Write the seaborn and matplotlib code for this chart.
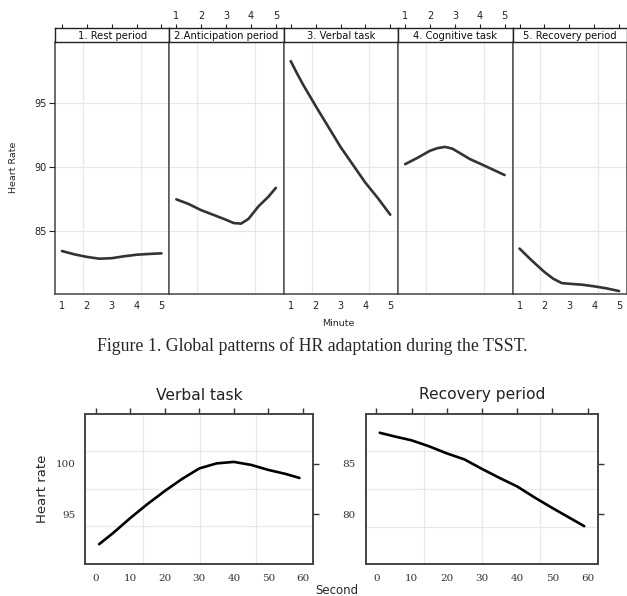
import seaborn as sns
import matplotlib.pyplot as plt
import numpy as np
import pandas as pd

# data
periods = ["1. Rest period", "2.Anticipation period", "3. Verbal task",
           "4. Cognitive task", "5. Recovery period"]
rest_min = [1, 1.5, 2, 2.5, 3, 3.5, 4, 4.5, 5]
rest_hr = [83.46, 83.2, 83.0, 82.86, 82.9, 83.05, 83.17, 83.23, 83.28]
anticip_min = [1, 1.5, 2, 2.5, 3, 3.3, 3.6, 3.9, 4.3, 4.7, 5]
anticip_hr = [87.5, 87.13, 86.65, 86.28, 85.9, 85.65, 85.6, 85.97, 86.95,
              87.7, 88.4]
verbal_min = [1, 1.25, 1.5, 2, 2.5, 3, 3.5, 4, 4.5, 5]
verbal_hr = [98.3, 97.35, 96.45, 94.8, 93.2, 91.6, 90.2, 88.8, 87.6, 86.3]
cognitive_min = [1, 1.5, 2, 2.3, 2.6, 2.9, 3.3, 3.6, 4, 4.5, 5]
cognitive_hr = [90.25, 90.75, 91.3, 91.5, 91.6, 91.46, 91.0, 90.65, 90.3,
                89.85, 89.4]
recovery_min = [1, 1.5, 2, 2.35, 2.7, 3, 3.5, 4, 4.5, 5]
recovery_hr = [83.65, 82.7, 81.82, 81.3, 80.95, 80.9, 80.83, 80.7, 80.54,
               80.33]

second = [1, 5, 10, 15, 20, 25, 30, 35, 40, 45, 50, 55, 59]
verbal_sec_hr = [92.0, 93.1, 94.6, 96.0, 97.3, 98.5, 99.55, 100.05, 100.2,
                 99.9, 99.4, 99.0, 98.6]
recovery_sec_hr = [88.1, 87.75, 87.35, 86.75, 86.05, 85.45, 84.5, 83.6,
                   82.75, 81.64, 80.6, 79.6, 78.8]

sns.set_style("white")
plt.rcParams['font.family'] = ['DejaVu Sans']

W, H = 627, 596
fig = plt.figure(figsize=(W / 100, H / 100), dpi=100)


def rect(x0, y0, x1, y1):
    return [x0 / W, 1 - y1 / H, (x1 - x0) / W, (y1 - y0) / H]


frame_col = '#444444'
grid_col = '#e8e8e8'

# ---- top lattice: one panel per period ----
series = [(rest_min, rest_hr), (anticip_min, anticip_hr),
          (verbal_min, verbal_hr), (cognitive_min, cognitive_hr),
          (recovery_min, recovery_hr)]
pw = (627 - 55) / 5
for i, (title, (mins, hr)) in enumerate(zip(periods, series)):
    x0 = 55 + i * pw
    ax = fig.add_axes(rect(x0, 42, x0 + pw, 294))
    df = pd.DataFrame({'Minute': mins, 'HR': hr})
    sns.lineplot(data=df, x='Minute', y='HR', ax=ax, color='#333333', lw=1.9,
                 solid_joinstyle='round', solid_capstyle='round')
    ax.set_xlim(0.72, 5.32)
    ax.set_ylim(80.1, 99.8)
    ax.set_xlabel("")
    ax.set_ylabel("")
    ax.set_xticks([1, 2, 3, 4, 5])
    ax.set_xticks([1.84, 3.0, 4.16], minor=True)
    ax.set_yticks([85, 90, 95])
    ax.grid(False)
    ax.grid(True, which='minor', axis='x', color=grid_col, lw=0.9)
    ax.grid(True, which='major', axis='y', color=grid_col, lw=0.9)
    ax.tick_params(which='minor', length=0)
    ax.tick_params(axis='x', direction='out', length=3, width=0.8,
                   labelsize=7, pad=2, colors='#222222',
                   labelbottom=(i % 2 == 0))
    ax.tick_params(axis='y', direction='out', length=4, width=0.8,
                   labelsize=7, pad=2, colors='#222222',
                   left=(i == 0), labelleft=(i == 0))
    for s in ax.spines.values():
        s.set_color(frame_col)
        s.set_linewidth(1.1)
    ax.spines['top'].set_visible(False)
    if i > 0:
        ax.spines['left'].set_color('#555555')

    strip = fig.add_axes(rect(x0, 28, x0 + pw, 42))
    strip.set_xlim(0.72, 5.32)
    strip.set_xticks([1, 2, 3, 4, 5])
    strip.set_yticks([])
    strip.xaxis.tick_top()
    strip.tick_params(axis='x', direction='out', length=3, width=0.8,
                      labelsize=7, pad=2, colors='#222222',
                      labeltop=(i % 2 == 1), bottom=False, labelbottom=False)
    for s in strip.spines.values():
        s.set_color('#222222')
        s.set_linewidth(1.0)
    strip.text(0.5, 0.45, title, transform=strip.transAxes, ha='center',
               va='center', fontsize=7.2, color='#111111')

fig.text(14 / W, 1 - 167 / H, "Heart Rate", rotation=90, ha='center',
         va='center', fontsize=6.8)
fig.text(338 / W, 1 - 323 / H, "Minute", ha='center', va='center',
         fontsize=6.8)
fig.text(312 / W, 1 - 346 / H,
         "Figure 1. Global patterns of HR adaptation during the TSST.",
         ha='center', va='center', fontsize=12.8,
         family=['Liberation Serif'])

# ---- bottom: second-by-second patterns ----
bottom = [
    ("Verbal task", verbal_sec_hr, (85.3, 313.3), (90, 105), [95, 100],
     [93.8, 97.5, 101.3], 199),
    ("Recovery period", recovery_sec_hr, (365.7, 598.3), (75, 90), [80, 85],
     [78.7, 82.5, 86.3], 482),
]
for j, (title, hr, (x0, x1), ylim, yt, ygrid, tx) in enumerate(bottom):
    ax = fig.add_axes(rect(x0, 413.7, x1, 564.3))
    df = pd.DataFrame({'Second': second, 'HR': hr})
    sns.lineplot(data=df, x='Second', y='HR', ax=ax, color='black', lw=1.9,
                 solid_joinstyle='round', solid_capstyle='round')
    ax.set_xlim(-3, 63)
    ax.set_ylim(*ylim)
    ax.set_xlabel("")
    ax.set_ylabel("")
    ax.set_xticks(range(0, 61, 10))
    ax.set_yticks(yt)
    ax.set_xticks([13.6, 30.1, 46.5], minor=True)
    ax.set_yticks(ygrid, minor=True)
    ax.grid(False)
    ax.grid(True, which='minor', color=grid_col, lw=0.9)
    ax.tick_params(which='minor', length=0)
    ax.tick_params(which='major', direction='out', length=4, width=1.0,
                   colors='#333333', labelsize=7.5, pad=3,
                   top=True, right=True, labeltop=False, labelright=False)
    for lab in ax.get_xticklabels() + ax.get_yticklabels():
        lab.set_family('DejaVu Serif')
    for s in ax.spines.values():
        s.set_color(frame_col)
        s.set_linewidth(1.4)
    fig.text(tx / W, 1 - 395 / H, title, ha='center', va='center',
             fontsize=11.2, color='#222222')

fig.text(42 / W, 1 - 489 / H, "Heart rate", rotation=90, ha='center',
         va='center', fontsize=9.5)
fig.text(337 / W, 1 - 590 / H, "Second", ha='center', va='center',
         fontsize=8.5)

fig.savefig("out.png", dpi=100)
